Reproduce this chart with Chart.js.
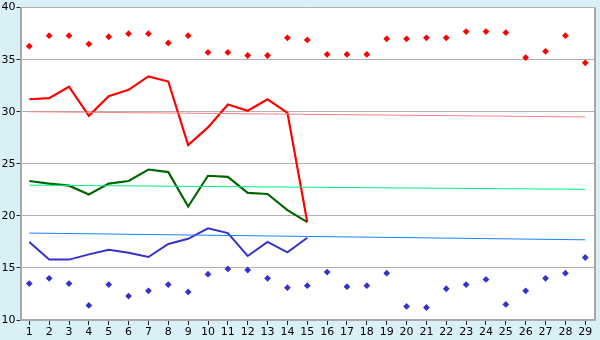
<!DOCTYPE html>
<html>
<head>
<meta charset="utf-8">
<script src="https://cdn.jsdelivr.net/npm/chart.js@4/dist/chart.umd.min.js"></script>
<style>
html,body{margin:0;padding:0;background:#daf0f7;}
#wrap{width:600px;height:340px;}
</style>
</head>
<body>
<div id="wrap"><canvas id="c" width="600" height="340"></canvas></div>
<script>
const categories = [1,2,3,4,5,6,7,8,9,10,11,12,13,14,15,16,17,18,19,20,21,22,23,24,25,26,27,28,29];
const yTicks = [10,15,20,25,30,35,40];

const redMarks = [36.3,37.3,37.3,36.5,37.2,37.5,37.5,36.6,37.3,35.7,35.7,35.4,35.4,37.1,36.9,35.5,35.5,35.5,37.0,37.0,37.1,37.1,37.7,37.7,37.6,35.2,35.8,37.3,34.7];
const blueMarks = [13.5,14.0,13.5,11.4,13.4,12.3,12.8,13.4,12.7,14.4,14.9,14.8,14.0,13.1,13.3,14.6,13.2,13.3,14.5,11.3,11.2,13.0,13.4,13.9,11.5,12.8,14.0,14.5,16.0];
const redLine = [31.2,31.3,32.4,29.6,31.5,32.1,33.4,32.9,26.8,28.5,30.7,30.1,31.2,29.9,19.4];
const greenLine = [23.35,23.1,22.9,22.05,23.1,23.35,24.45,24.2,20.9,23.85,23.75,22.2,22.1,20.55,19.4];
const blueLine = [17.5,15.8,15.8,16.3,16.75,16.45,16.05,17.3,17.8,18.8,18.35,16.15,17.5,16.5,17.9];
const redTrend = [30.0,29.5];
const greenTrend = [22.95,22.55];
const blueTrend = [18.35,17.7];

function pts(arr){ return arr.map((v,i)=>({x:categories[i], y:v})); }
function trend(arr){ return [{x:categories[0],y:arr[0]},{x:categories[categories.length-1],y:arr[1]}]; }

const bgPlugin = {
  id:'bg',
  beforeDraw(chart){
    const {ctx, chartArea:a} = chart;
    ctx.save();
    ctx.fillStyle = '#daf0f7';
    ctx.fillRect(0,0,chart.width,chart.height);
    ctx.fillStyle = '#ffffff';
    ctx.fillRect(a.left,a.top,a.right-a.left,a.bottom-a.top);
    ctx.restore();
  },
  afterDraw(chart){
    const {ctx, chartArea:a} = chart;
    ctx.save();
    ctx.strokeStyle = '#a8a8a8';
    ctx.lineWidth = 2;
    ctx.beginPath();
    ctx.moveTo(a.right, a.top);
    ctx.lineTo(a.right, a.bottom);
    ctx.stroke();
    ctx.restore();
  }
};

const lineDs = (label, data, color, w) => ({type:'line', label, data, borderColor:color, backgroundColor:color, borderWidth:w, pointRadius:0, tension:0, fill:false});
const markDs = (label, data, color) => ({type:'scatter', label, data, borderColor:color, backgroundColor:color, pointStyle:'rectRot', pointRadius:3.4, pointBorderWidth:0, showLine:false});

new Chart(document.getElementById('c'), {
  type:'line',
  data:{
    datasets:[
      lineDs('redTrend', trend(redTrend), '#ff8080', 1),
      lineDs('greenTrend', trend(greenTrend), '#00f080', 1),
      lineDs('blueTrend', trend(blueTrend), '#1a80ff', 1),
      lineDs('red', pts(redLine), '#ff0000', 2.2),
      lineDs('green', pts(greenLine), '#006600', 2.2),
      lineDs('blue', pts(blueLine), '#3333cc', 2),
      markDs('redMarks', pts(redMarks), '#ff0000'),
      markDs('blueMarks', pts(blueMarks), '#3333cc')
    ]
  },
  options:{
    responsive:false,
    animation:false,
    devicePixelRatio:1,
    layout:{padding:{top:5,right:5,left:0,bottom:0}},
    plugins:{legend:{display:false}, tooltip:{enabled:false}},
    scales:{
      x:{
        type:'linear',
        min:0.557, max:29.49,
        afterFit(s){ s.height = 20; },
        afterBuildTicks(s){ s.ticks = categories.map(v=>({value:v})); },
        grid:{drawOnChartArea:false, drawTicks:true, tickLength:5, tickColor:'#222', tickWidth:1},
        border:{display:true, color:'#a8a8a8', width:1.5},
        ticks:{autoSkip:false, maxRotation:0, padding:1, color:'#000', font:{family:'DejaVu Sans', size:11}, callback:(v)=>String(v)}
      },
      y:{
        min:10, max:40,
        afterFit(s){ s.width = 20.5; },
        afterBuildTicks(s){ s.ticks = yTicks.map(v=>({value:v})); },
        grid:{color:'#b0b0b0', lineWidth:1, drawTicks:true, tickLength:4, tickColor:'#222'},
        border:{display:true, color:'#a8a8a8', width:2},
        ticks:{padding:1, color:'#000', font:{family:'DejaVu Sans', size:11}}
      }
    }
  },
  plugins:[bgPlugin]
});
</script>
</body>
</html>
